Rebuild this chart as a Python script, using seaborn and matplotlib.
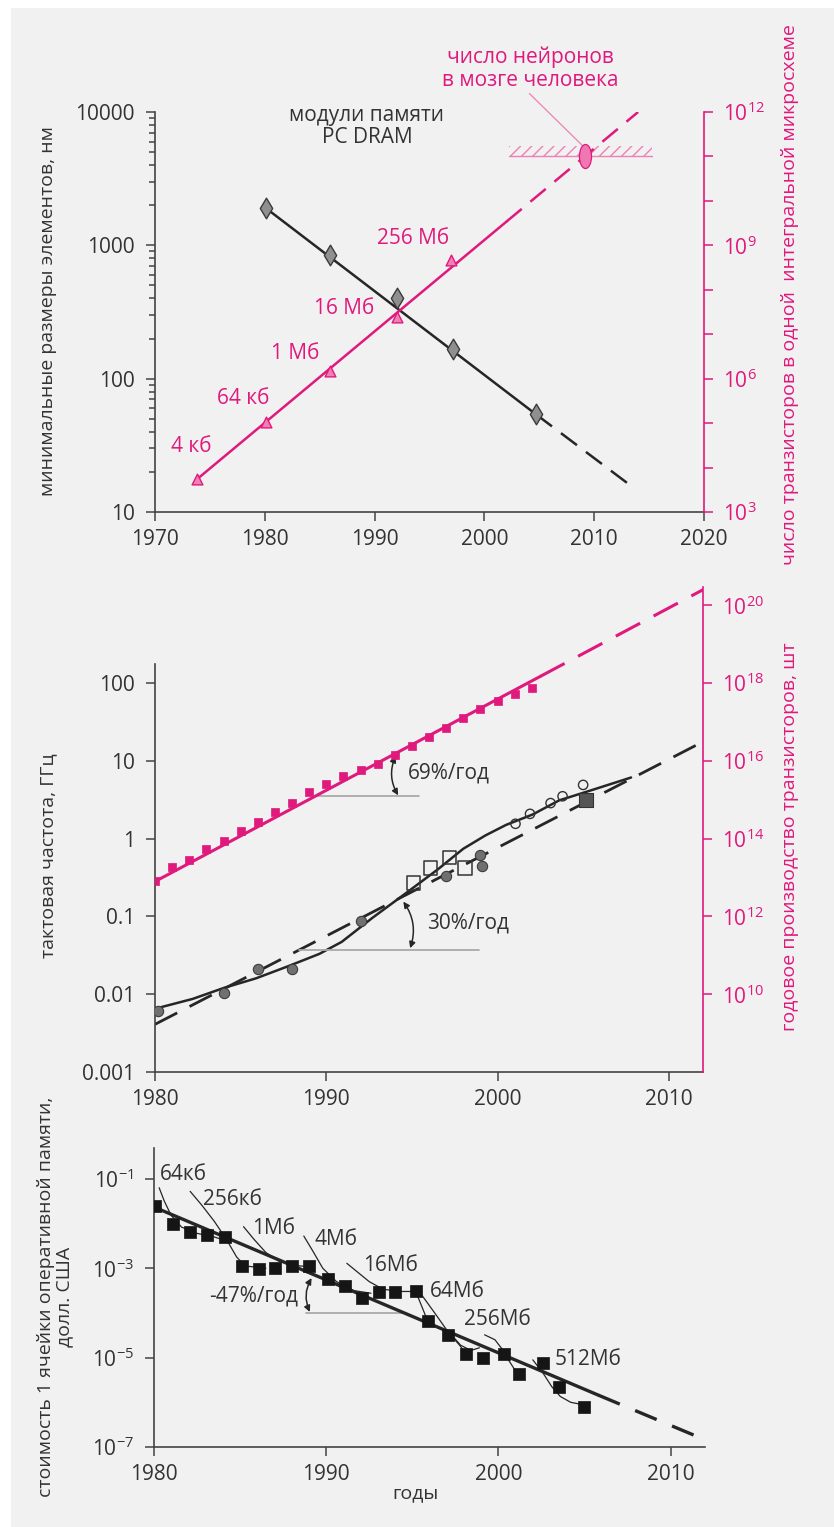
import matplotlib
matplotlib.use("Agg")
import matplotlib.pyplot as plt
import seaborn as sns
from matplotlib.markers import MarkerStyle
from matplotlib.patches import Rectangle
from matplotlib.ticker import NullLocator, NullFormatter, LogLocator
from matplotlib.transforms import Affine2D

# ---------- panel 1: DRAM feature size and transistors per chip ----------
dram_years = [1980.1, 1985.9, 1992.0, 1997.1, 2004.7]
dram_feature_nm = [1900, 850, 400, 166, 54]
feature_trend_years = [1980.1, 2004.7, 2013.4]
feature_trend_nm = [1900, 54, 15.6]

chip_years = [1973.8, 1980.1, 1985.9, 1992.0, 1997.0]
chip_transistors = [5.4e3, 1.04e5, 1.5e6, 2.4e7, 4.7e8]
chip_labels = ["4 кб", "64 кб", "1 Мб", "16 Мб", "256 Мб"]
chip_trend_years = [1973.8, 2002.0, 2014.0]
chip_trend_transistors = [5.4e3, 3.4e9, 1.0e12]

brain_year = 2009.2
brain_neurons = 1.0e11
brain_span_years = [2002.2, 2015.3]

# ---------- panel 2: clock frequency and yearly transistor production ----------
prod_years = list(range(1980, 2003))
prod_transistors = [8.3e12, 1.9e13, 2.9e13, 5.5e13, 8.5e13, 1.6e14, 2.6e14, 4.9e14,
                    8.3e14, 1.6e15, 2.6e15, 4.0e15, 5.9e15, 8.5e15, 1.45e16, 2.4e16,
                    4.0e16, 7.1e16, 1.26e17, 2.1e17, 3.4e17, 5.2e17, 7.6e17]
prod_trend_years = [1980, 2002.5, 2012]
prod_trend_transistors = [7.9e12, 1.48e18, 2.5e20]

clock_circle_years = [1980.2, 1984.0, 1986.0, 1988.0, 1992.0, 1997.0, 1999.0, 1999.1]
clock_circle_ghz = [0.006, 0.0104, 0.021, 0.021, 0.087, 0.33, 0.61, 0.44]
clock_square_years = [1995.1, 1996.1, 1997.2, 1998.1]
clock_square_ghz = [0.27, 0.42, 0.57, 0.42]
clock_open_years = [2001.05, 2001.9, 2003.1, 2003.8, 2005.0]
clock_open_ghz = [1.55, 2.08, 2.86, 3.5, 4.9]
clock_solid_sq_years = [2005.15]
clock_solid_sq_ghz = [3.1]

clock_curve_years = [1980.0, 1982.2, 1984.0, 1985.9, 1987.8, 1989.6, 1990.9, 1992.7, 1994.6,
                     1996.5, 1998.0, 1999.3, 2000.5, 2002.05, 2003.6, 2005.2, 2006.7, 2007.8]
clock_curve_ghz = [0.0065, 0.0087, 0.012, 0.016, 0.023, 0.033, 0.047, 0.096, 0.195,
                   0.40, 0.74, 1.1, 1.5, 2.04, 3.1, 4.0, 5.1, 6.1]
clock_trend_years = [1980, 2012]
clock_trend_ghz = [0.0041, 17.6]

# ---------- panel 3: cost of one DRAM cell ----------
cost_years = [1980.05, 1981.1, 1982.1, 1983.1, 1984.1, 1985.1, 1986.1, 1987.0, 1988.0,
              1989.0, 1990.1, 1991.1, 1992.1, 1993.05, 1994.0, 1995.2, 1995.9, 1997.1,
              1998.1, 1999.1, 2000.3, 2001.2, 2002.6, 2003.5, 2005.0]
cost_usd = [0.0245, 0.0100, 0.0065, 0.0055, 0.0049, 0.00115, 0.00097, 0.00103, 0.00115,
            0.0011, 0.00056, 0.0004, 0.00022, 0.0003, 0.0003, 0.00031, 6.5e-5, 3.2e-5,
            1.2e-5, 1.0e-5, 1.2e-5, 4.3e-6, 7.6e-6, 2.2e-6, 7.9e-7]
cost_trend_years = [1980, 2005.8, 2012]
cost_trend_usd = [0.0234, 1.45e-6, 1.45e-7]

gen_names = ["64кб", "256кб", "1Мб", "4Мб", "16Мб", "64Мб", "256Мб", "512Мб"]
# price curves of single memory generations (year, log10 of cost)
gen_curve_years = [
    [1980.3, 1980.6, 1981.0, 1981.6, 1982.5, 1983.5, 1984.3],
    [1982.1, 1982.8, 1983.5, 1984.2, 1984.8, 1985.3, 1986.5],
    [1985.2, 1985.8, 1986.5, 1987.3, 1988.2, 1989.2],
    [1988.7, 1989.2, 1989.8, 1990.6, 1991.6, 1992.6],
    [1991.2, 1991.8, 1992.5, 1993.3, 1994.3, 1995.2],
    [1995.2, 1995.6, 1995.9],
    [1995.4, 1996.3, 1997.2, 1997.7, 1998.1],
    [1997.3, 1997.8, 1998.4, 1998.9],
    [1999.2, 1999.8, 2000.2, 2000.5, 2001.0],
    [2002.0, 2002.6, 2003.1, 2003.6, 2004.2, 2005.0],
]
gen_curve_exp = [
    [-1.20, -1.50, -1.82, -2.08, -2.22, -2.30, -2.40],
    [-1.28, -1.60, -1.95, -2.35, -2.75, -2.95, -3.00],
    [-2.07, -2.35, -2.65, -2.85, -2.94, -2.97],
    [-2.28, -2.60, -3.00, -3.30, -3.50, -3.56],
    [-2.89, -3.08, -3.30, -3.47, -3.52, -3.52],
    [-3.52, -3.90, -4.19],
    [-3.52, -4.00, -4.49, -4.70, -4.90],
    [-4.50, -4.72, -4.84, -4.78],
    [-4.49, -4.60, -4.80, -5.00, -5.30],
    [-5.05, -5.35, -5.65, -5.87, -6.00, -6.06],
]

PINK = "#e0197d"
PINK_LIGHT = "#ee80b4"
DARK = "#262626"
TEXT = "#333333"
REF_GRAY = "#a9a9a9"
FS = 15
LFS = 14

sns.set_theme(style="ticks")
plt.rcParams["font.family"] = ["Open Sans", "DejaVu Sans"]
plt.rcParams["mathtext.fontset"] = "custom"
plt.rcParams["mathtext.rm"] = "Open Sans"
plt.rcParams["mathtext.it"] = "Open Sans"
plt.rcParams["mathtext.bf"] = "Open Sans"
plt.rcParams["hatch.linewidth"] = 1.0

W, H = 834, 1527
fig = plt.figure(figsize=(W / 100, H / 100), dpi=100, facecolor="white")
fig.patches.append(Rectangle((11 / W, 0), 1, 1 - 8 / H, transform=fig.transFigure,
                             facecolor="#f1f1f1", edgecolor="none", zorder=-10))


def box(x0, y0, x1, y1):
    return [x0 / W, 1 - y1 / H, (x1 - x0) / W, (y1 - y0) / H]


def style_main(ax):
    ax.set_facecolor("none")
    ax.spines["top"].set_visible(False)
    ax.spines["right"].set_visible(False)
    for side in ["left", "bottom"]:
        ax.spines[side].set_color("#444444")
        ax.spines[side].set_linewidth(1.2)
    ax.tick_params(axis="both", which="both", direction="out", colors="#444444",
                   labelcolor=TEXT, labelsize=FS, width=1.1)
    ax.tick_params(axis="both", which="major", length=6.5)
    ax.tick_params(axis="y", which="minor", length=4.5)
    ax.tick_params(axis="y", pad=8)
    ax.tick_params(axis="x", pad=6)


def style_twin(ax):
    ax.set_facecolor("none")
    for side in ["left", "top", "bottom"]:
        ax.spines[side].set_visible(False)
    ax.spines["right"].set_color(PINK)
    ax.spines["right"].set_linewidth(1.2)
    ax.tick_params(axis="y", which="both", direction="out", colors=PINK,
                   labelcolor=PINK, labelsize=FS, width=1.1, length=6.5, pad=7)


def draw_line(ax, xs, ys, color, lw, dash=None, zorder=2):
    sns.lineplot(x=xs, y=ys, ax=ax, color=color, linewidth=lw, estimator=None,
                 sort=False, zorder=zorder)
    line = ax.lines[-1]
    if dash is not None:
        line.set_dashes(dash)
    line.set_dash_capstyle("butt")
    return line


def pow_label(e):
    return r"$\mathregular{10^{%d}}$" % e


# ================= panel 1 =================
ax1 = fig.add_axes(box(155, 112, 704, 512))
ax1.set_yscale("log")
ax1.set_xlim(1970, 2020)
ax1.set_ylim(10, 10000)
style_main(ax1)
ax1.set_xticks([1970, 1980, 1990, 2000, 2010, 2020])
ax1.set_xticklabels(["1970", "1980", "1990", "2000", "2010", "2020"])
ax1.set_yticks([10, 100, 1000, 10000])
ax1.set_yticklabels(["10", "100", "1000", "10000"])
ax1.yaxis.set_minor_locator(LogLocator(base=10, subs=range(2, 10)))
ax1.yaxis.set_minor_formatter(NullFormatter())

ax1r = ax1.twinx()
ax1r.set_yscale("log")
ax1r.set_ylim(1e3, 1e12)
style_twin(ax1r)
ax1r.set_yticks([1e3, 1e6, 1e9, 1e12])
ax1r.set_yticklabels([pow_label(e) for e in (3, 6, 9, 12)])
ax1r.set_yticks([1e4, 1e5, 1e7, 1e8, 1e10, 1e11], minor=True)
ax1r.yaxis.set_minor_formatter(NullFormatter())

draw_line(ax1, feature_trend_years[:2], feature_trend_nm[:2], DARK, 1.8)
draw_line(ax1, feature_trend_years[1:], feature_trend_nm[1:], DARK, 1.8, dash=(8, 4.5))
sns.scatterplot(x=dram_years, y=dram_feature_nm, ax=ax1, marker="d", s=110,
                color="#8f8f8f", edgecolor="#3a3a3a", linewidth=1.0, zorder=4)
ax1.text(1989.3, 7760, "модули памяти\nPC DRAM", ha="center", va="center",
         fontsize=FS, color=TEXT, linespacing=1.1)

draw_line(ax1r, chip_trend_years[:2], chip_trend_transistors[:2], PINK, 1.8)
draw_line(ax1r, chip_trend_years[1:], chip_trend_transistors[1:], PINK, 1.8, dash=(8, 4.5))
sns.scatterplot(x=chip_years, y=chip_transistors, ax=ax1r, marker="^", s=60,
                color=PINK_LIGHT, edgecolor=PINK, linewidth=1.0, zorder=4)
chip_label_pos = [(1973.3, 31), (1978.0, 71), (1982.8, 155), (1987.2, 337), (1993.5, 1130)]
for lab, (lx, ly) in zip(chip_labels, chip_label_pos):
    ax1.text(lx, ly, lab, ha="center", va="center", fontsize=FS, color=PINK)

ax1r.fill_between(brain_span_years, brain_neurons, brain_neurons * 1.7,
                  facecolor="none", edgecolor=PINK_LIGHT, hatch="///", linewidth=0)
draw_line(ax1r, brain_span_years, [brain_neurons, brain_neurons], PINK_LIGHT, 1.0)
oval = MarkerStyle("o", transform=Affine2D().scale(0.5, 1.0))
sns.scatterplot(x=[brain_year], y=[brain_neurons], ax=ax1r, marker=oval, s=300,
                color="#ef78b2", edgecolor=PINK, linewidth=0.9, zorder=5)
ax1r.plot([2004.1, brain_year - 0.1], [2.6e12, brain_neurons * 1.6], color=PINK_LIGHT,
          lw=0.9, clip_on=False)
ax1.text(2004.2, 21000, "число нейронов\nв мозге человека", ha="center", va="center",
         fontsize=FS, color=PINK, linespacing=1.1)

fig.text(48 / W, 1 - 311 / H, "минимальные размеры элементов, нм", rotation=90,
         ha="center", va="center", fontsize=LFS, color=TEXT)
fig.text(790 / W, 1 - 295 / H, "число транзисторов в одной  интегральной микросхеме",
         rotation=90, ha="center", va="center", fontsize=LFS, color=PINK)

# ================= panel 2 =================
ax2 = fig.add_axes(box(155, 587, 703, 1072))
ax2.set_yscale("log")
ax2.set_xlim(1980, 2012)
ax2.set_ylim(1e-3, 10 ** 3.234)
style_main(ax2)
ax2.spines["left"].set_bounds(1e-3, 175)
ax2.set_xticks([1980, 1990, 2000, 2010])
ax2.set_xticklabels(["1980", "1990", "2000", "2010"])
ax2.set_yticks([1e-3, 1e-2, 1e-1, 1, 10, 100])
ax2.set_yticklabels(["0.001", "0.01", "0.1", "1", "10", "100"])
ax2.yaxis.set_minor_locator(NullLocator())

ax2r = ax2.twinx()
ax2r.set_yscale("log")
ax2r.set_ylim(1e8, 10 ** 20.468)
style_twin(ax2r)
ax2r.set_yticks([1e10, 1e12, 1e14, 1e16, 1e18, 1e20])
ax2r.set_yticklabels([pow_label(e) for e in (10, 12, 14, 16, 18, 20)])
ax2r.yaxis.set_minor_locator(NullLocator())

draw_line(ax2, clock_trend_years, clock_trend_ghz, DARK, 2.0, dash=(9, 5))
draw_line(ax2, clock_curve_years, clock_curve_ghz, DARK, 1.8)
sns.scatterplot(x=clock_circle_years, y=clock_circle_ghz, ax=ax2, marker="o", s=55,
                color="#707070", edgecolor="#3c3c3c", linewidth=0.8, zorder=4)
sns.scatterplot(x=clock_square_years, y=clock_square_ghz, ax=ax2, marker="s", s=95,
                facecolor="none", edgecolor="#333333", linewidth=1.1, zorder=4)
sns.scatterplot(x=clock_open_years, y=clock_open_ghz, ax=ax2, marker="o", s=45,
                facecolor="none", edgecolor="#333333", linewidth=1.0, zorder=4)
sns.scatterplot(x=clock_solid_sq_years, y=clock_solid_sq_ghz, ax=ax2, marker="s", s=90,
                color="#555555", edgecolor="#333333", linewidth=0.8, zorder=4)

draw_line(ax2r, prod_trend_years[:2], prod_trend_transistors[:2], PINK, 2.2)
draw_line(ax2r, prod_trend_years[1:], prod_trend_transistors[1:], PINK, 2.2, dash=(9, 5))
sns.scatterplot(x=prod_years, y=prod_transistors, ax=ax2r, marker="s", s=34,
                color=PINK, edgecolor=PINK, linewidth=0.5, zorder=4)

ax2.plot([1989.5, 1995.4], [3.5, 3.5], color=REF_GRAY, lw=1.3)
ax2.annotate("", xy=(1994.2, 3.6), xytext=(1994.05, 11.5),
             arrowprops=dict(arrowstyle="<|-|>", connectionstyle="arc3,rad=0.25",
                             color=DARK, lw=1.1, mutation_scale=9, shrinkA=0, shrinkB=0))
ax2.text(1994.75, 6.9, "69%/год", ha="left", va="center", fontsize=FS, color=TEXT)

ax2.plot([1988.4, 1998.9], [0.037, 0.037], color=REF_GRAY, lw=1.3)
ax2.annotate("", xy=(1994.9, 0.039), xytext=(1994.5, 0.155),
             arrowprops=dict(arrowstyle="<|-|>", connectionstyle="arc3,rad=-0.25",
                             color=DARK, lw=1.1, mutation_scale=9, shrinkA=0, shrinkB=0))
ax2.text(1995.9, 0.083, "30%/год", ha="left", va="center", fontsize=FS, color=TEXT)

fig.text(48 / W, 1 - 856 / H, "тактовая частота, ГГц", rotation=90,
         ha="center", va="center", fontsize=LFS, color=TEXT)
fig.text(790 / W, 1 - 837 / H, "годовое производство транзисторов, шт", rotation=90,
         ha="center", va="center", fontsize=LFS, color=PINK)

# ================= panel 3 =================
ax3 = fig.add_axes(box(154, 1148, 705, 1447))
ax3.set_yscale("log")
ax3.set_xlim(1980, 2012)
ax3.set_ylim(1e-7, 10 ** -0.31)
style_main(ax3)
ax3.set_xticks([1980, 1990, 2000, 2010])
ax3.set_xticklabels(["1980", "1990", "2000", "2010"])
ax3.set_yticks([1e-7, 1e-5, 1e-3, 1e-1])
ax3.set_yticklabels([pow_label(e) for e in (-7, -5, -3, -1)])
ax3.yaxis.set_minor_locator(NullLocator())

for xs, es in zip(gen_curve_years, gen_curve_exp):
    draw_line(ax3, xs, [10 ** e for e in es], DARK, 0.9)
draw_line(ax3, cost_trend_years[:2], cost_trend_usd[:2], DARK, 2.4, zorder=3)
draw_line(ax3, cost_trend_years[1:], cost_trend_usd[1:], DARK, 2.4, dash=(7, 5), zorder=3)
sns.scatterplot(x=cost_years, y=cost_usd, ax=ax3, marker="s", s=80, color="#151515",
                edgecolor="#151515", linewidth=0.5, zorder=4)

gen_label_pos = [(1980.35, -0.91), (1982.85, -1.47), (1985.67, -2.12), (1989.34, -2.35),
                 (1992.15, -2.95), (1996.05, -3.52), (1997.98, -4.15), (2003.27, -5.05)]
for name, (gx, ge) in zip(gen_names, gen_label_pos):
    ax3.text(gx, 10 ** ge, name, ha="left", va="center", fontsize=FS, color=TEXT)

ax3.plot([1988.8, 1994.5], [1e-4, 1e-4], color=REF_GRAY, lw=1.3)
ax3.annotate("", xy=(1989.05, 1.05e-4), xytext=(1989.15, 10 ** -3.22),
             arrowprops=dict(arrowstyle="<|-|>", connectionstyle="arc3,rad=0.25",
                             color=DARK, lw=1.1, mutation_scale=9, shrinkA=0, shrinkB=0))
ax3.text(1988.35, 10 ** -3.63, "-47%/год", ha="right", va="center", fontsize=FS, color=TEXT)

fig.text(55 / W, 1 - 1297 / H, "стоимость 1 ячейки оперативной памяти,\nдолл. США",
         rotation=90, ha="center", va="center", fontsize=LFS, color=TEXT, linespacing=1.05)
fig.text(415 / W, 1 - 1493 / H, "годы", ha="center", va="center", fontsize=LFS, color=TEXT)

fig.savefig("out.png", dpi=100, facecolor=fig.get_facecolor())
